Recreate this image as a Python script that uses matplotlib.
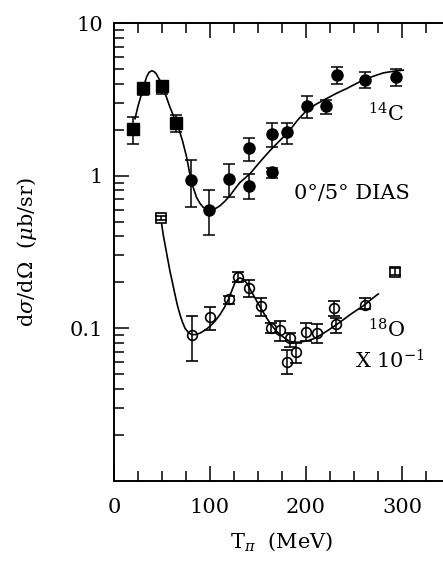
import numpy as np
import matplotlib
matplotlib.use("Agg")
import matplotlib.pyplot as plt
from matplotlib.ticker import LogLocator, NullFormatter, MultipleLocator

# 14C, squares (low energy) and filled circles
c_sq_T = [20, 30.5, 50, 65]
c_sq_v = [2.03, 3.78, 3.87, 2.21]
c_sq_lo = [1.62, 3.36, 3.41, 1.93]
c_sq_hi = [2.42, 4.0, 4.15, 2.48]

c_ci_T = [80, 99, 120, 140.6, 140.6, 165, 165, 180.5, 200.7, 220.8, 232, 261.5, 293.4]
c_ci_v = [0.94, 0.60, 0.95, 1.52, 0.86, 1.88, 1.05, 1.93, 2.84, 2.84, 4.55, 4.26, 4.43]
c_ci_lo = [0.62, 0.41, 0.72, 1.24, 0.70, 1.53, 0.97, 1.62, 2.40, 2.55, 4.01, 3.78, 3.85]
c_ci_hi = [1.27, 0.80, 1.20, 1.77, 1.03, 2.21, 1.13, 2.21, 3.31, 3.11, 5.16, 4.78, 4.96]

c_fit_T = [21.9, 25, 28.8, 31.5, 34, 36.5, 39.2, 41.5, 43.8, 46.5, 49.7, 54, 58.3, 62.5, 67, 71.5,
           75.7, 80, 83, 86, 89.5, 93, 96.5, 100, 105, 110.4, 115.5, 120.8, 126, 131, 141.7,
           152, 162.5, 172, 181.6, 191, 200.7, 211, 221.5, 232, 242.4, 252, 261.5, 271, 280.5, 291, 301.4]
c_fit_v = [2.36, 2.85, 3.45, 3.95, 4.43, 4.75, 4.86, 4.82, 4.67, 4.35, 4.01, 3.35, 2.81, 2.42, 2.08, 1.68,
           1.32, 0.95, 0.82, 0.72, 0.66, 0.62, 0.60, 0.594, 0.605, 0.635, 0.68, 0.74, 0.82, 0.90, 1.03,
           1.23, 1.46, 1.68, 1.93, 2.30, 2.68, 2.95, 3.20, 3.47, 3.72, 4.00, 4.28, 4.50, 4.71, 4.83, 4.91]

# 18O (x 10^-1), open squares and open circles
o_sq_T = [48.6, 292.7]
o_sq_v = [0.527, 0.235]
o_sq_lo = [0.51, 0.222]
o_sq_hi = [0.545, 0.247]

o_ci_T = [81.6, 100, 120, 129.5, 141, 152.8, 163.5, 173, 183, 180.5, 189.6, 200, 211, 229.5, 231, 261.5]
o_ci_v = [0.090, 0.118, 0.155, 0.218, 0.184, 0.140, 0.100, 0.097, 0.086, 0.060, 0.070, 0.095, 0.093, 0.136, 0.106, 0.143]
o_ci_lo = [0.061, 0.098, 0.145, 0.200, 0.161, 0.120, 0.093, 0.082, 0.076, 0.050, 0.059, 0.082, 0.080, 0.120, 0.093, 0.133]
o_ci_hi = [0.120, 0.137, 0.164, 0.235, 0.207, 0.158, 0.108, 0.112, 0.093, 0.072, 0.080, 0.108, 0.106, 0.152, 0.116, 0.158]

o_fit_T = [49.7, 51.3, 53.1, 55.7, 58.3, 61, 63.5, 66, 68.75, 71.3, 74, 77.5, 80.9, 85, 89.6, 94.5, 100,
           105, 110.4, 115, 119, 122.5, 126, 128.5, 131, 134.5, 138, 143, 148.6, 154, 159, 164, 169.5,
           176, 183, 192, 202, 209, 216, 224, 232, 239, 246, 254, 261.5, 268, 275.3]
o_fit_v = [0.481, 0.41, 0.356, 0.29, 0.237, 0.198, 0.167, 0.142, 0.123, 0.110, 0.100, 0.094, 0.091, 0.091, 0.093, 0.097, 0.103,
           0.111, 0.123, 0.137, 0.154, 0.175, 0.199, 0.209, 0.214, 0.210, 0.199, 0.175, 0.151, 0.132, 0.117, 0.105, 0.0955,
           0.088, 0.082, 0.081, 0.083, 0.086, 0.091, 0.098, 0.106, 0.114, 0.123, 0.133, 0.143, 0.155, 0.168]

plt.rcParams['font.family'] = 'DejaVu Serif'
plt.rcParams['mathtext.fontset'] = 'dejavuserif'

fig = plt.figure(figsize=(4.43, 5.61), dpi=100)
ax = fig.add_axes([0.2573, 0.1426, 0.7585, 0.8164])


def errs(v, lo, hi):
    v = np.array(v)
    return [v - np.array(lo), np.array(hi) - v]


eb = dict(ecolor='black', elinewidth=1.1, capsize=4.5, capthick=1.1, linestyle='none')
ax.errorbar(c_sq_T, c_sq_v, yerr=errs(c_sq_v, c_sq_lo, c_sq_hi), marker='s', ms=8,
            mfc='black', mec='black', **eb)
ax.errorbar(c_ci_T, c_ci_v, yerr=errs(c_ci_v, c_ci_lo, c_ci_hi), marker='o', ms=8,
            mfc='black', mec='black', **eb)
ax.errorbar(o_sq_T, o_sq_v, yerr=errs(o_sq_v, o_sq_lo, o_sq_hi), marker='s', ms=7,
            mfc='none', mec='black', mew=1.2, **eb)
ax.errorbar(o_ci_T, o_ci_v, yerr=errs(o_ci_v, o_ci_lo, o_ci_hi), marker='o', ms=7,
            mfc='none', mec='black', mew=1.2, **eb)

ax.plot(c_fit_T, c_fit_v, color='black', lw=1.2)
ax.plot(o_fit_T, o_fit_v, color='black', lw=1.2)

ax.set_yscale('log')
ax.set_xlim(0, 350)
ax.set_ylim(0.01, 10)

ax.xaxis.set_major_locator(MultipleLocator(100))
ax.xaxis.set_minor_locator(MultipleLocator(25))
ax.yaxis.set_minor_locator(LogLocator(base=10, subs=np.arange(2, 10), numticks=10))
ax.yaxis.set_minor_formatter(NullFormatter())
ax.set_yticks([0.1, 1, 10])
ax.set_yticklabels(['0.1', '1', '10'])
ax.set_xticks([0, 100, 200, 300])
ax.set_xticklabels(['0', '100', '200', '300'])

ax.tick_params(which='both', direction='in', top=True, right=False, labelsize=15, width=1.1)
ax.tick_params(which='major', length=11, pad=12)
ax.tick_params(axis='y', which='major', pad=8)
ax.tick_params(which='minor', length=7)
for s in ax.spines.values():
    s.set_linewidth(1.4)
ax.spines['right'].set_visible(False)

ax.set_xlabel(r'T$_\pi$  (MeV)', fontsize=15, labelpad=10)
ax.set_ylabel(r'd$\sigma$/d$\Omega$  ($\mu$b/sr)', fontsize=15, labelpad=22)

ax.text(283, 2.55, r'$^{14}$C', fontsize=15, ha='center', va='center')
ax.text(248, 0.76, r'0°/5° DIAS', fontsize=15, ha='center', va='center')
ax.text(284, 0.097, r'$^{18}$O', fontsize=15, ha='center', va='center')
ax.text(287, 0.061, r'X 10$^{-1}$', fontsize=15, ha='center', va='center')

fig.savefig('out.png', dpi=100)
